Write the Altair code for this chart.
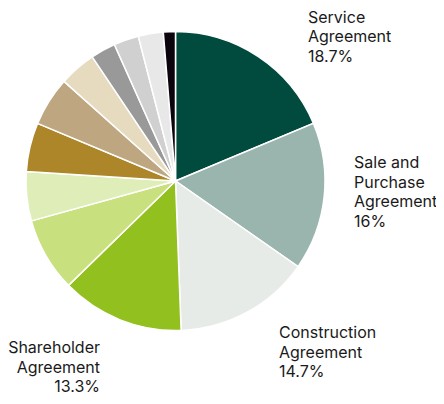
import altair as alt
import pandas as pd

categories = ["Service Agreement", "Sale and Purchase Agreement", "Construction Agreement",
              "Shareholder Agreement", "Other 1", "Other 2", "Other 3", "Other 4",
              "Other 5", "Other 6", "Other 7", "Other 8", "Other 9"]
shares = [18.7, 16.0, 14.7, 13.3, 8.0, 5.3, 5.3, 5.3, 4.0, 2.7, 2.7, 2.7, 1.3]
colors = ["#004b3e", "#9ab5ae", "#e6ebe8", "#92c01f", "#c9e07f", "#dfeeb9", "#ad862a",
          "#bea681", "#e6dbbf", "#999999", "#d0d0d0", "#e8e8e8", "#0b040c"]

df = pd.DataFrame({"category": categories, "share": shares, "idx": list(range(len(categories)))})

CX, CY, R = 167.5, 173, 149.5

pie = alt.Chart(df).mark_arc(radius=R, stroke="white", strokeWidth=1.5).encode(
    theta=alt.Theta("share:Q", stack=True),
    order=alt.Order("idx:Q"),
    color=alt.Color("category:N", scale=alt.Scale(domain=categories, range=colors), legend=None),
    x=alt.value(CX),
    y=alt.value(CY),
)

def label(text, x, y, align):
    return alt.Chart(df).transform_filter(alt.datum.idx == 0).mark_text(
        text=text, align=align, baseline="alphabetic", font="Inter", fontSize=16,
        lineHeight=19.5, color="#1a1a1a", lineBreak="\n"
    ).encode(x=alt.value(x), y=alt.value(y))

labels = [
    label("Service\nAgreement\n18.7%", 300, 14.5, "left"),
    label("Sale and\nPurchase\nAgreement\n16%", 346, 160, "left"),
    label("Construction\nAgreement\n14.7%", 271, 330, "left"),
    label("Shareholder\nAgreement\n13.3%", 92, 345, "right"),
]

chart = alt.layer(pie, *labels).properties(
    width=428, height=388, padding=0, autosize=alt.AutoSizeParams(type="none")
).configure_view(stroke=None)

chart.save("out.html", embed_options={"renderer": "svg", "actions": False})
